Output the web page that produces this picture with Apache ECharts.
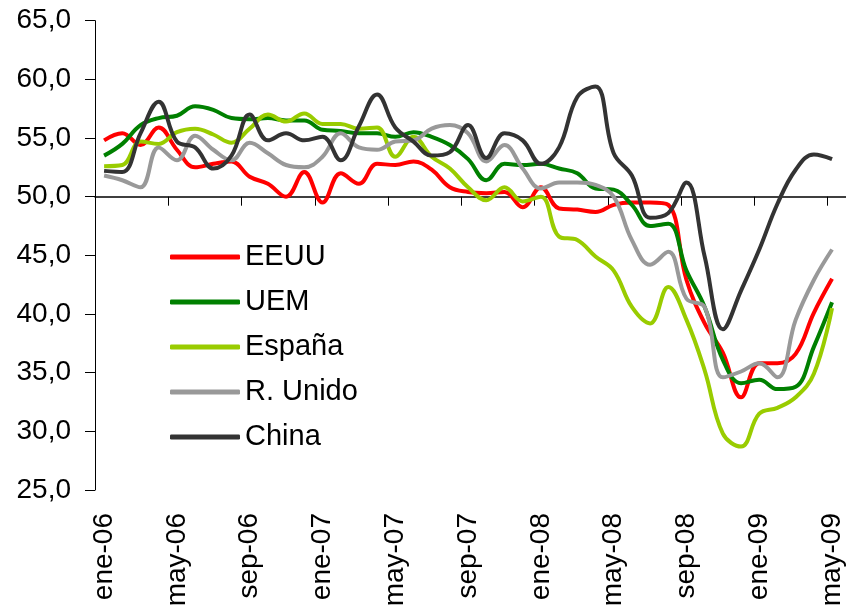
<!DOCTYPE html>
<html>
<head>
<meta charset="utf-8">
<title>PMI manufacturas</title>
<script src="https://cdn.jsdelivr.net/npm/echarts@6/dist/echarts.min.js"></script>
<style>
  html, body { margin: 0; padding: 0; background: #fff; }
  #chart { width: 846px; height: 611px; }
</style>
</head>
<body>
<div id="chart"></div>
<script>
'use strict';

const months = [
  'ene-06', 'feb-06', 'mar-06', 'abr-06', 'may-06', 'jun-06', 'jul-06', 'ago-06', 'sep-06', 'oct-06', 'nov-06', 'dic-06',
  'ene-07', 'feb-07', 'mar-07', 'abr-07', 'may-07', 'jun-07', 'jul-07', 'ago-07', 'sep-07', 'oct-07', 'nov-07', 'dic-07',
  'ene-08', 'feb-08', 'mar-08', 'abr-08', 'may-08', 'jun-08', 'jul-08', 'ago-08', 'sep-08', 'oct-08', 'nov-08', 'dic-08',
  'ene-09', 'feb-09', 'mar-09', 'abr-09', 'may-09',
];

const eeuu = [
  54.8, 55.4, 54.4, 55.9, 54.0, 52.5, 52.8, 53.0, 51.7, 51.1, 50.0, 52.1,
  49.5, 52.0, 51.1, 52.8, 52.7, 53.0, 52.3, 50.8, 50.4, 50.3, 50.4, 49.1,
  50.8, 49.0, 48.9, 48.7, 49.3, 49.5, 49.5, 49.3, 42.9, 39.2, 36.7, 32.9,
  35.8, 35.8, 36.6, 40.1, 43.0,
];
const uem = [
  53.5, 54.5, 56.1, 56.7, 56.9, 57.7, 57.4, 56.7, 56.6, 56.7, 56.5, 56.5,
  55.7, 55.6, 55.4, 55.4, 55.1, 55.5, 55.1, 54.4, 53.2, 51.4, 52.8, 52.7,
  52.8, 52.4, 52.0, 50.7, 50.6, 49.3, 47.5, 47.7, 43.7, 40.6, 36.1, 34.1,
  34.4, 33.6, 33.8, 37.2, 41.0,
];
const espana = [
  52.6, 52.7, 54.7, 54.5, 55.5, 55.8, 55.3, 54.6, 55.8, 57.0, 56.4, 57.1,
  56.2, 56.2, 55.8, 55.9, 53.4, 55.1, 53.4, 52.4, 50.8, 49.7, 50.8, 49.6,
  50.0, 46.6, 46.3, 44.9, 43.7, 40.6, 39.2, 42.3, 39.5, 35.2, 29.8, 28.7,
  31.5, 32.0, 32.9, 34.9, 40.5,
];
const rUnido = [
  51.8, 51.4, 50.8, 54.2, 53.1, 55.2, 54.0, 53.1, 54.6, 53.7, 52.7, 52.5,
  53.4, 55.4, 54.2, 54.0, 54.7, 54.8, 55.8, 56.1, 55.4, 53.0, 54.4, 52.4,
  50.7, 51.2, 51.2, 51.0, 50.0, 46.3, 44.2, 45.3, 41.3, 40.6, 34.6, 35.1,
  35.8, 34.6, 39.5, 42.9, 45.5,
];
const china = [
  52.2, 52.1, 55.4, 58.1, 54.7, 54.2, 52.4, 53.5, 57.0, 54.8, 55.4, 54.8,
  55.1, 53.1, 56.0, 58.7, 55.9, 54.7, 53.5, 53.8, 56.1, 53.3, 55.4, 54.8,
  52.8, 54.2, 58.5, 59.4, 53.7, 51.8, 48.2, 48.6, 51.2, 44.9, 38.7, 42.0,
  45.5, 49.4, 52.3, 53.6, 53.2,
];

const seriesNames = ['EEUU', 'UEM', 'España', 'R. Unido', 'China'];
const seriesValues = [eeuu, uem, espana, rUnido, china];
const seriesColors = ['#ff0000', '#008000', '#99cc00', '#999999', '#333333'];

const FONT = "'Liberation Sans', Arial, sans-serif";

const chart = echarts.init(document.getElementById('chart'), null, { renderer: 'canvas' });

const option = {
  animation: false,
  backgroundColor: '#fff',
  textStyle: { fontFamily: FONT, color: '#000' },
  grid: [
    // main plot: 25..65
    { left: 95, right: 0, top: 20.7, bottom: 121, containLabel: false },
    // upper half only, so its x axis sits on the 50 line
    { left: 95, right: 0, top: 20.7, bottom: 414.3, containLabel: false },
  ],
  legend: {
    orient: 'vertical',
    left: 165,
    top: 237,
    icon: 'roundRect',
    itemWidth: 70,
    itemHeight: 5,
    itemGap: 15,
    data: seriesNames,
    textStyle: { fontFamily: FONT, fontSize: 29, color: '#000', lineHeight: 30 },
  },
  xAxis: [
    {
      type: 'category',
      gridIndex: 0,
      data: months,
      boundaryGap: true,
      axisLine: { show: false },
      axisTick: { show: false },
      axisLabel: {
        interval: 3,
        rotate: 90,
        margin: 23,
        fontFamily: FONT,
        fontSize: 28,
        color: '#000',
      },
    },
    {
      type: 'category',
      gridIndex: 1,
      data: months,
      boundaryGap: true,
      axisLine: { show: true, lineStyle: { color: '#000', width: 1.5 } },
      axisTick: { show: true, interval: 3, length: 9, lineStyle: { color: '#000', width: 1 } },
      axisLabel: { show: false },
    },
  ],
  yAxis: [
    {
      type: 'value',
      gridIndex: 0,
      min: 25,
      max: 65,
      interval: 5,
      axisLine: { show: true, lineStyle: { color: '#000', width: 1 } },
      axisTick: { show: true, length: 10, lineStyle: { color: '#000' } },
      splitLine: { show: false },
      axisLabel: {
        margin: 24,
        fontFamily: FONT,
        fontSize: 28,
        color: '#000',
        formatter: (v) => v.toFixed(1).replace('.', ','),
      },
    },
    {
      type: 'value',
      gridIndex: 1,
      min: 50,
      max: 65,
      show: false,
    },
  ],
  series: seriesNames.map((name, i) => ({
    name,
    type: 'line',
    xAxisIndex: 0,
    yAxisIndex: 0,
    data: seriesValues[i],
    smooth: 0.4,
    symbol: 'none',
    itemStyle: { color: seriesColors[i] },
    lineStyle: { color: seriesColors[i], width: 4 },
  })),
};

chart.setOption(option);
</script>
</body>
</html>
